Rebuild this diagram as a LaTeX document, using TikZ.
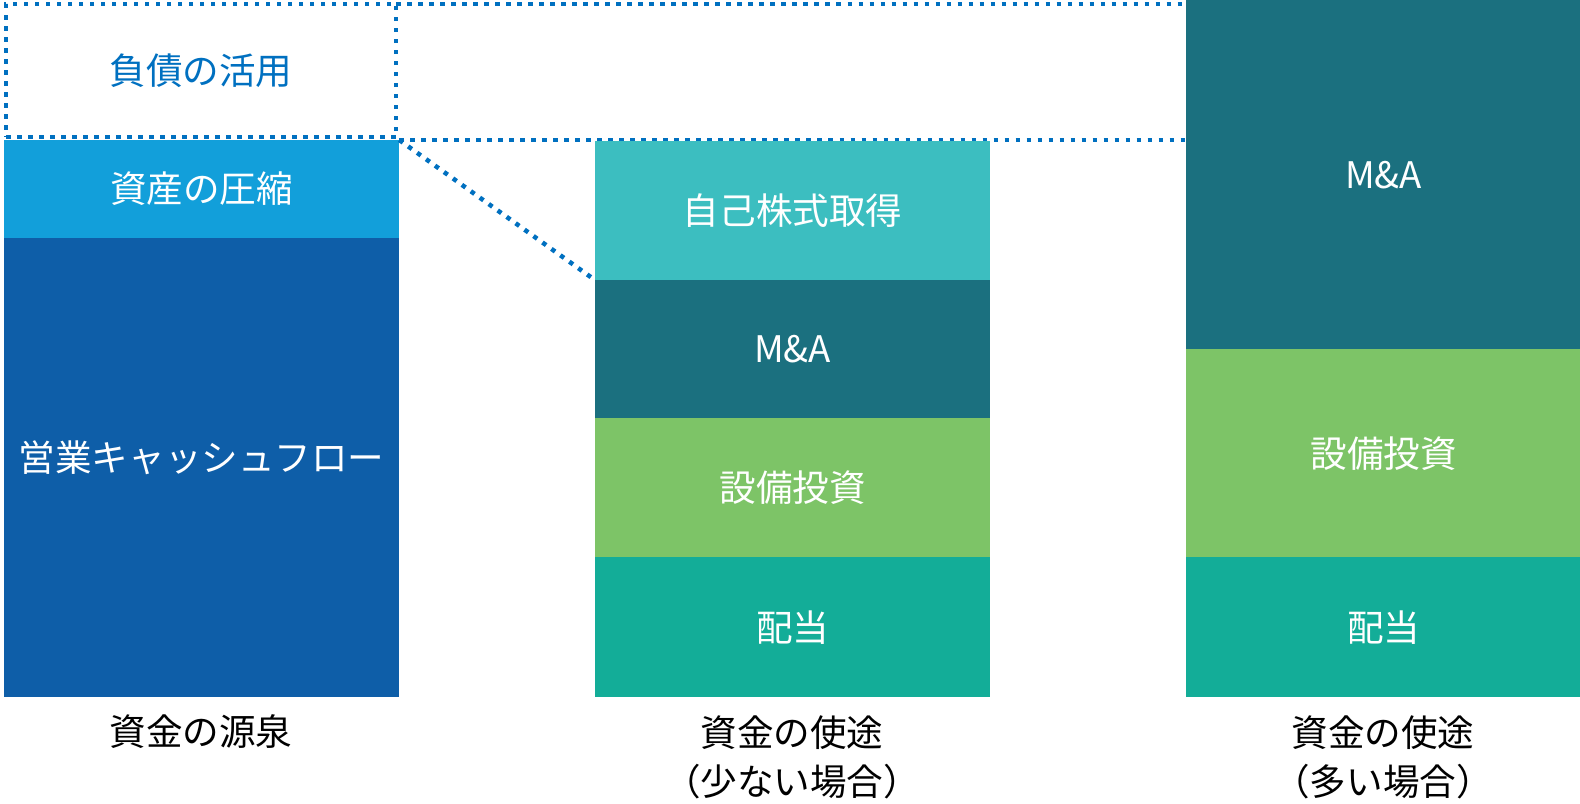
\documentclass[tikz,border=0pt]{standalone}
\usepackage{fontspec}
\setmainfont{Noto Sans CJK JP}
\usetikzlibrary{positioning}
\definecolor{dotblue}{HTML}{0070C0}
\definecolor{assetc}{HTML}{129FDA}
\definecolor{cfc}{HTML}{0E5EA8}
\definecolor{buyc}{HTML}{3CBEC0}
\definecolor{mac}{HTML}{1B707F}
\definecolor{capexc}{HTML}{7DC467}
\definecolor{divc}{HTML}{13AD98}
\tikzset{
  blk/.style={draw=none, minimum width=3.95cm, inner sep=0pt, outer sep=0pt, text=white, font=\fontsize{10.4pt}{13.9pt}\selectfont},
  dotline/.style={draw=dotblue, line width=0.045cm, dash pattern=on 0.045cm off 0.065cm},
  caption/.style={align=center, font=\fontsize{10.4pt}{13.9pt}\selectfont}
}
\begin{document}
\begin{tikzpicture}[x=0.01cm, y=-0.01cm]
  \useasboundingbox (0,0) rectangle (1580,803);

  \node[blk, dotline, minimum width=3.90cm, minimum height=1.33cm, anchor=north west, text=dotblue] (debt) at (6,4) {負債の活用};
  \node[blk, fill=assetc, minimum height=0.98cm, anchor=north west] (assets) at (4,140) {資産の圧縮};
  \node[blk, fill=cfc, minimum height=4.59cm, below=0pt of assets] (cf) {};
  \node[blk] (cftext) at ([yshift=0.1cm]cf.center) {営業キャッシュフロー};

  \node[blk, minimum height=0pt, anchor=north west] (ma2) at (1186,0) {};
  \draw[dotline] (debt.north east) -- (debt.north east -| ma2.west);
  \draw[dotline] (assets.north east) -- (assets.north east -| ma2.west);

  \node[blk, fill=buyc, minimum height=1.39cm, anchor=north west] (buyback) at (595,141) {自己株式取得};
  \draw[dotline] (assets.north east) -- (buyback.south west);
  \node[blk, fill=mac, minimum height=1.38cm, below=0pt of buyback] (ma1) {M\&A};
  \node[blk, fill=capexc, minimum height=1.39cm, below=0pt of ma1] (capex1) {設備投資};
  \node[blk, fill=divc, minimum height=1.40cm, below=0pt of capex1] (div1) {配当};

  \node[blk, fill=mac, minimum height=3.49cm, anchor=north west] (ma2) at (1186,0) {M\&A};
  \node[blk, fill=capexc, minimum height=2.08cm, below=0pt of ma2] (capex2) {設備投資};
  \node[blk, fill=divc, minimum height=1.40cm, below=0pt of capex2] (div2) {配当};

  \node[caption] (src) at (201,732) {資金の源泉};
  \node[caption] (use1) at (792,757) {資金の使途\\（少ない場合）};
  \node[caption] (use2) at (1383,757) {資金の使途\\（多い場合）};
\end{tikzpicture}
\end{document}
